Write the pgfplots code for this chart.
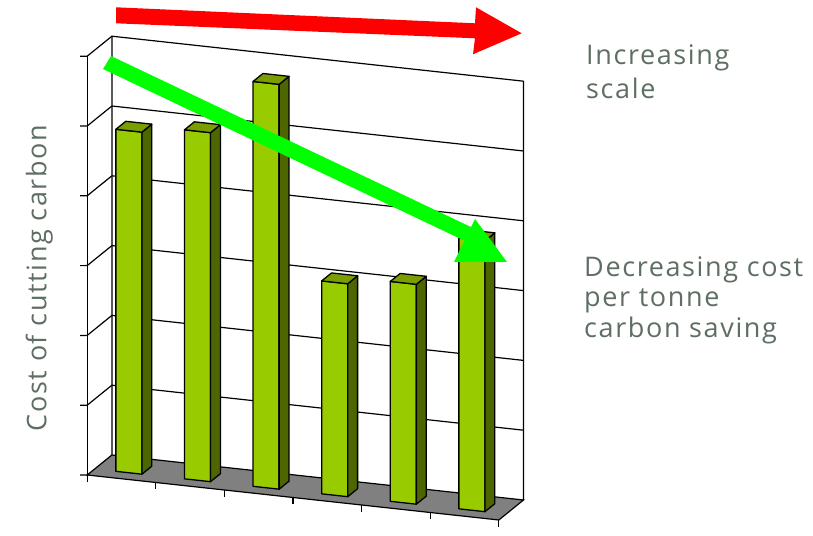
\documentclass[border=0pt]{standalone}
\usepackage{fontspec}
\setmainfont{Open Sans}[LetterSpace=6]
\usepackage{pgfplots}
\usepackage{pgfplotstable}
\pgfplotsset{compat=1.18}

\definecolor{barfront}{RGB}{153,204,0}
\definecolor{barside}{RGB}{77,102,0}
\definecolor{bartop}{RGB}{122,158,0}
\definecolor{floorgray}{RGB}{128,128,128}
\definecolor{labelgray}{RGB}{94,110,98}
\definecolor{arrowgreen}{RGB}{0,255,0}
\definecolor{arrowred}{RGB}{255,0,0}

% cost of cutting carbon for each scheme, smallest to largest
\pgfplotstableread{
pos cost
0 4.90
1 5.00
2 5.80
3 3.05
4 3.15
5 3.88
}\costtable

\tikzset{
  bar outline/.style={draw=black, line width=1.3pt, line join=round},
  frame line/.style={draw=black, line width=1.2pt},
}

% one 3-D column: front, right side and top faces
\newcommand\barcolumn[2]{%
  \pgfmathsetmacro\xl{#1+0.31}%
  \pgfmathsetmacro\xr{#1+0.69}%
  \edef\next{%
    \noexpand\addplot3[bar outline, fill=barfront] coordinates {(\xl,0.3,0) (\xr,0.3,0) (\xr,0.3,#2) (\xl,0.3,#2)} -- cycle;
    \noexpand\addplot3[bar outline, fill=barside] coordinates {(\xr,0.3,0) (\xr,0.7,0) (\xr,0.7,#2) (\xr,0.3,#2)} -- cycle;
    \noexpand\addplot3[bar outline, fill=bartop] coordinates {(\xl,0.3,#2) (\xr,0.3,#2) (\xr,0.7,#2) (\xl,0.7,#2)} -- cycle;
  }\next
}

\begin{document}
\begin{tikzpicture}
\begin{axis}[
  x={(68.6pt,-7.5pt)}, y={(24.7pt,20pt)}, z={(0pt,69.8pt)},
  xmin=0, xmax=6, ymin=0, ymax=1, zmin=0, zmax=6,
  hide axis, clip=false,
]
  \coordinate (O) at (axis cs:0,0,0);
  % back wall
  \pgfplotsinvokeforeach{1,...,5}{
    \addplot3[frame line] coordinates {(0,1,#1) (6,1,#1)};
  }
  \addplot3[frame line] coordinates {(0,1,0) (0,1,6) (6,1,6) (6,1,0)};
  % left wall
  \pgfplotsinvokeforeach{1,...,6}{
    \addplot3[frame line] coordinates {(0,0,#1) (0,1,#1)};
  }
  % floor
  \addplot3[frame line, fill=floorgray] coordinates {(0,0,0) (6,0,0) (6,1,0) (0,1,0)} -- cycle;
  % front vertical edge and ticks
  \addplot3[frame line] coordinates {(0,0,0) (0,0,6)};
  \pgfplotsinvokeforeach{0,...,6}{
    \addplot3[frame line] coordinates {(0,0,#1) (-0.09,-0.034,#1)};
    \addplot3[frame line] coordinates {(#1,0,0) (#1,0,-0.1)};
  }
  % columns
  \pgfplotsinvokeforeach{0,...,5}{
    \pgfplotstablegetelem{#1}{cost}\of\costtable
    \barcolumn{#1}{\pgfplotsretval}
  }
\end{axis}

\begin{scope}[shift={(O)}, x=1pt, y=-1pt, shift={(-87.2,-475)}]
  % trend arrows
  \fill[arrowgreen] (111,56) -- (481,231.8) -- (473,244.8) -- (103,69) -- cycle;
  \fill[arrowgreen] (454,262) -- (475,219) -- (507,262) -- cycle;
  \fill[arrowred] (116,7.3) -- (475,23.3) -- (476,7.3) -- (521.7,33.3)
                  -- (473,54.3) -- (475,38.3) -- (116,23.3) -- cycle;
  % annotations
  \begin{scope}[every node/.style={font=\fontsize{27}{32}\selectfont, text=labelgray, inner sep=0pt}]
    \node[anchor=base west] at (586,65) {Increasing};
    \node[anchor=base west] at (586,99) {scale};
    \node[anchor=base west] at (584,277) {Decreasing cost};
    \node[anchor=base west] at (584,307) {per tonne};
    \node[anchor=base west] at (584,338) {carbon saving};
    \node[anchor=base, rotate=90] at (46.5,278) {Cost of cutting carbon};
  \end{scope}
  \pgfresetboundingbox
  \path[use as bounding box] (0,0) rectangle (813,535);
\end{scope}
\end{tikzpicture}
\end{document}
